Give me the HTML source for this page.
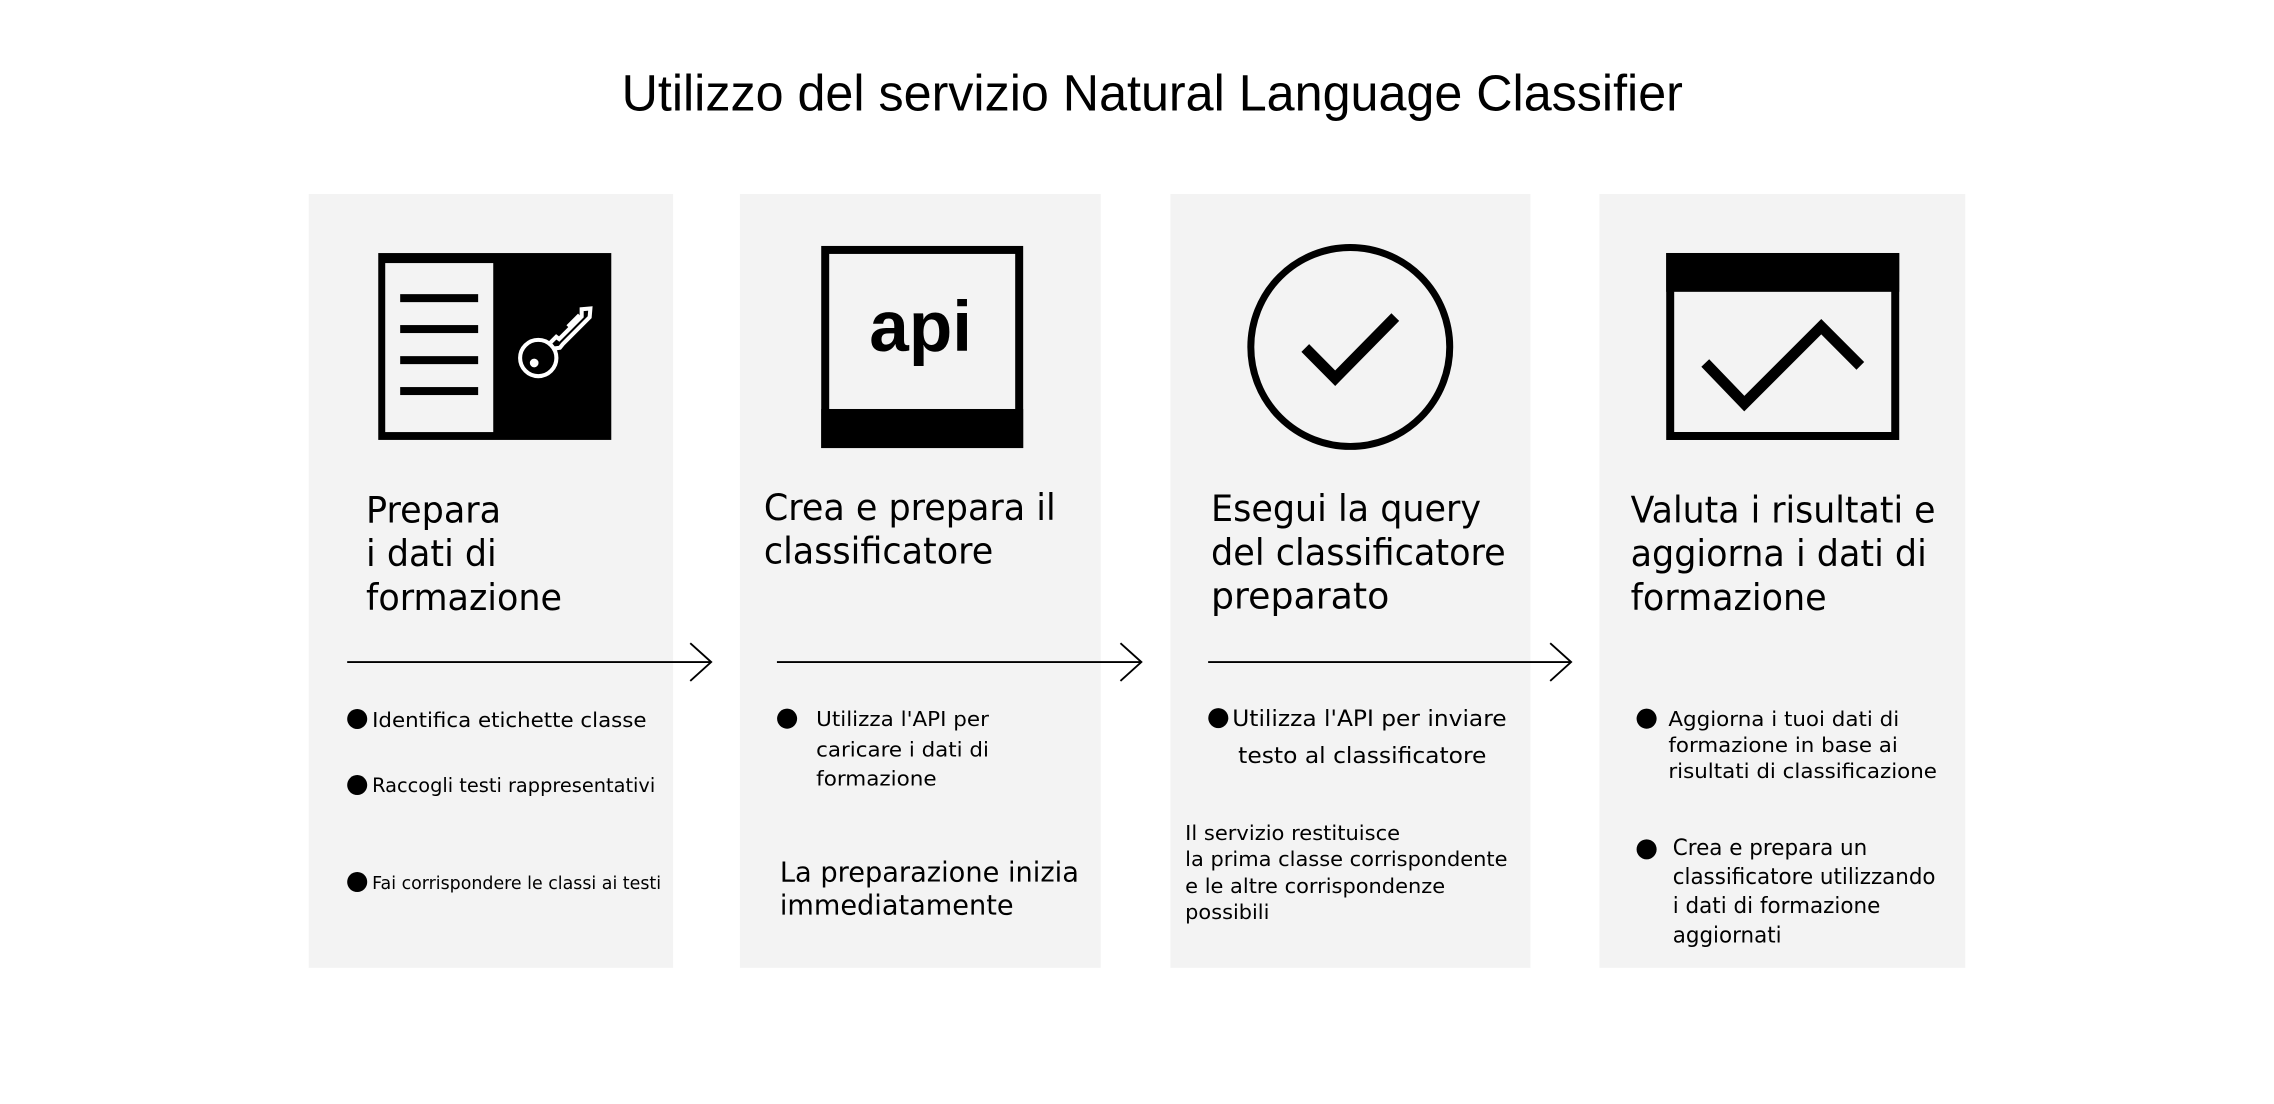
<!DOCTYPE html>
<html><head><meta charset="utf-8"><style>html,body{margin:0;padding:0;background:#fff}svg{display:block}</style></head>
<body>
<svg width="2274" height="1104" viewBox="0 0 1566 760.4" xmlns="http://www.w3.org/2000/svg" font-family="DejaVu Sans, Liberation Sans, sans-serif" fill="#000">
<rect width="1566" height="760.4" fill="#fff"/>
<text x="793.5" y="76" font-family="Liberation Sans, sans-serif" font-size="35" text-anchor="middle" textLength="731" lengthAdjust="spacingAndGlyphs">Utilizzo del servizio Natural Language Classifier</text>
<g fill="#f3f3f3">
<rect x="212.5" y="133.6" width="251" height="533"/>
<rect x="509.5" y="133.6" width="248.5" height="533"/>
<rect x="806" y="133.6" width="248" height="533"/>
<rect x="1101.5" y="133.6" width="252" height="533"/>
</g>
<rect x="260.4" y="174.3" width="160.5" height="128.7" fill="#000"/>
<rect x="265.2" y="181.2" width="74.4" height="116.4" fill="#f3f3f3"/>
<g fill="#000">
<rect x="275.5" y="202.6" width="53.7" height="5.5"/>
<rect x="275.5" y="223.9" width="53.7" height="5.5"/>
<rect x="275.5" y="245.3" width="53.7" height="5.5"/>
<rect x="275.5" y="266.6" width="53.7" height="5.5"/>
</g>
<g stroke="#fff" stroke-width="2.8" fill="none">
<circle cx="370.6" cy="246.6" r="12.5"/>
<path d="M378.5 236.5 L383 232 L385 233.5 L400.5 218 L400.5 213 L406.5 212.5 L406 218.5 L387.5 237 L385.5 239.5 L382 240"/>
<path d="M391 225 L399 217"/>
</g>
<circle cx="367.8" cy="250" r="3" fill="#fff"/>
<rect x="568.25" y="172.15" width="133.6" height="133.7" fill="none" stroke="#000" stroke-width="5.5"/>
<rect x="565.5" y="281.7" width="139.1" height="26.9" fill="#000"/>
<text x="634" y="241.8" font-family="Liberation Sans, sans-serif" font-weight="700" font-size="49" text-anchor="middle">api</text>
<circle cx="929.9" cy="239" r="68.5" fill="none" stroke="#000" stroke-width="4.8"/>
<polyline points="898.9,239.7 919.5,260.5 960.9,218.4" fill="none" stroke="#000" stroke-width="7.5"/>
<rect x="1150.25" y="177" width="155" height="123.3" fill="none" stroke="#000" stroke-width="5.5"/>
<rect x="1147.5" y="174.3" width="160.5" height="26.7" fill="#000"/>
<polyline points="1174.4,250 1201.3,278 1254.3,225 1281.2,252" fill="none" stroke="#000" stroke-width="7.5"/>
<g font-size="25">
<text x="252" y="360" textLength="93" lengthAdjust="spacingAndGlyphs">Prepara</text>
<text x="252" y="390" textLength="90" lengthAdjust="spacingAndGlyphs">i dati di</text>
<text x="252" y="420" textLength="135" lengthAdjust="spacingAndGlyphs">formazione</text>
<text x="526" y="358" textLength="201" lengthAdjust="spacingAndGlyphs">Crea e prepara il</text>
<text x="526" y="388" textLength="158" lengthAdjust="spacingAndGlyphs">classificatore</text>
<text x="834" y="359" textLength="186" lengthAdjust="spacingAndGlyphs">Esegui la query</text>
<text x="834" y="389" textLength="203" lengthAdjust="spacingAndGlyphs">del classificatore</text>
<text x="834" y="419">preparato</text>
<text x="1123" y="360" textLength="210" lengthAdjust="spacingAndGlyphs">Valuta i risultati e</text>
<text x="1123" y="390" textLength="204" lengthAdjust="spacingAndGlyphs">aggiorna i dati di</text>
<text x="1123" y="420" textLength="135" lengthAdjust="spacingAndGlyphs">formazione</text>
</g>
<g stroke="#000" stroke-width="1.3" fill="none">
<line x1="239" y1="456" x2="489.7" y2="456"/><polyline points="475.3,443 489.7,456 475.3,469"/>
<line x1="535" y1="456" x2="786" y2="456"/><polyline points="771.6,443 786,456 771.6,469"/>
<line x1="832" y1="456" x2="1082" y2="456"/><polyline points="1067.6,443 1082,456 1067.6,469"/>
</g>
<g fill="#000">
<circle cx="245.9" cy="495.2" r="6.9"/>
<circle cx="245.9" cy="540.7" r="6.9"/>
<circle cx="245.9" cy="607.5" r="6.9"/>
<circle cx="542" cy="495" r="6.9"/>
<circle cx="839" cy="494.6" r="6.9"/>
<circle cx="1134" cy="495" r="6.9"/>
<circle cx="1134" cy="585" r="6.9"/>
</g>
<g font-size="14">
<text x="256.2" y="500.8" textLength="189" lengthAdjust="spacingAndGlyphs">Identifica etichette classe</text>
<text x="256.2" y="545.5" font-size="13.5" textLength="195" lengthAdjust="spacingAndGlyphs">Raccogli testi rappresentativi</text>
<text x="256.2" y="612.3" font-size="12.5" textLength="199" lengthAdjust="spacingAndGlyphs">Fai corrispondere le classi ai testi</text>
<text x="562" y="500" textLength="119" lengthAdjust="spacingAndGlyphs">Utilizza l'API per</text>
<text x="562" y="521" textLength="119" lengthAdjust="spacingAndGlyphs">caricare i dati di</text>
<text x="562" y="541" textLength="83" lengthAdjust="spacingAndGlyphs">formazione</text>
<text x="537" y="607" font-size="19" textLength="206" lengthAdjust="spacingAndGlyphs">La preparazione inizia</text>
<text x="537" y="630" font-size="19" textLength="161" lengthAdjust="spacingAndGlyphs">immediatamente</text>
<text x="848.6" y="500" font-size="15" textLength="189" lengthAdjust="spacingAndGlyphs">Utilizza l'API per inviare</text>
<text x="852.7" y="525.6" font-size="15" textLength="171" lengthAdjust="spacingAndGlyphs">testo al classificatore</text>
<text x="816.2" y="578.6" textLength="148" lengthAdjust="spacingAndGlyphs">Il servizio restituisce</text>
<text x="816.2" y="596.5" textLength="222" lengthAdjust="spacingAndGlyphs">la prima classe corrispondente</text>
<text x="816.2" y="615" textLength="179" lengthAdjust="spacingAndGlyphs">e le altre corrispondenze</text>
<text x="816.2" y="633" textLength="58" lengthAdjust="spacingAndGlyphs">possibili</text>
<text x="1149" y="500" textLength="159" lengthAdjust="spacingAndGlyphs">Aggiorna i tuoi dati di</text>
<text x="1149" y="518" textLength="158" lengthAdjust="spacingAndGlyphs">formazione in base ai</text>
<text x="1149" y="536" textLength="185" lengthAdjust="spacingAndGlyphs">risultati di classificazione</text>
<text x="1152" y="589" font-size="15" textLength="134" lengthAdjust="spacingAndGlyphs">Crea e prepara un</text>
<text x="1152" y="609" font-size="15" textLength="181" lengthAdjust="spacingAndGlyphs">classificatore utilizzando</text>
<text x="1152" y="629" font-size="15" textLength="143" lengthAdjust="spacingAndGlyphs">i dati di formazione</text>
<text x="1152" y="649" font-size="15" textLength="75" lengthAdjust="spacingAndGlyphs">aggiornati</text>
</g>
</svg>
</body></html>
